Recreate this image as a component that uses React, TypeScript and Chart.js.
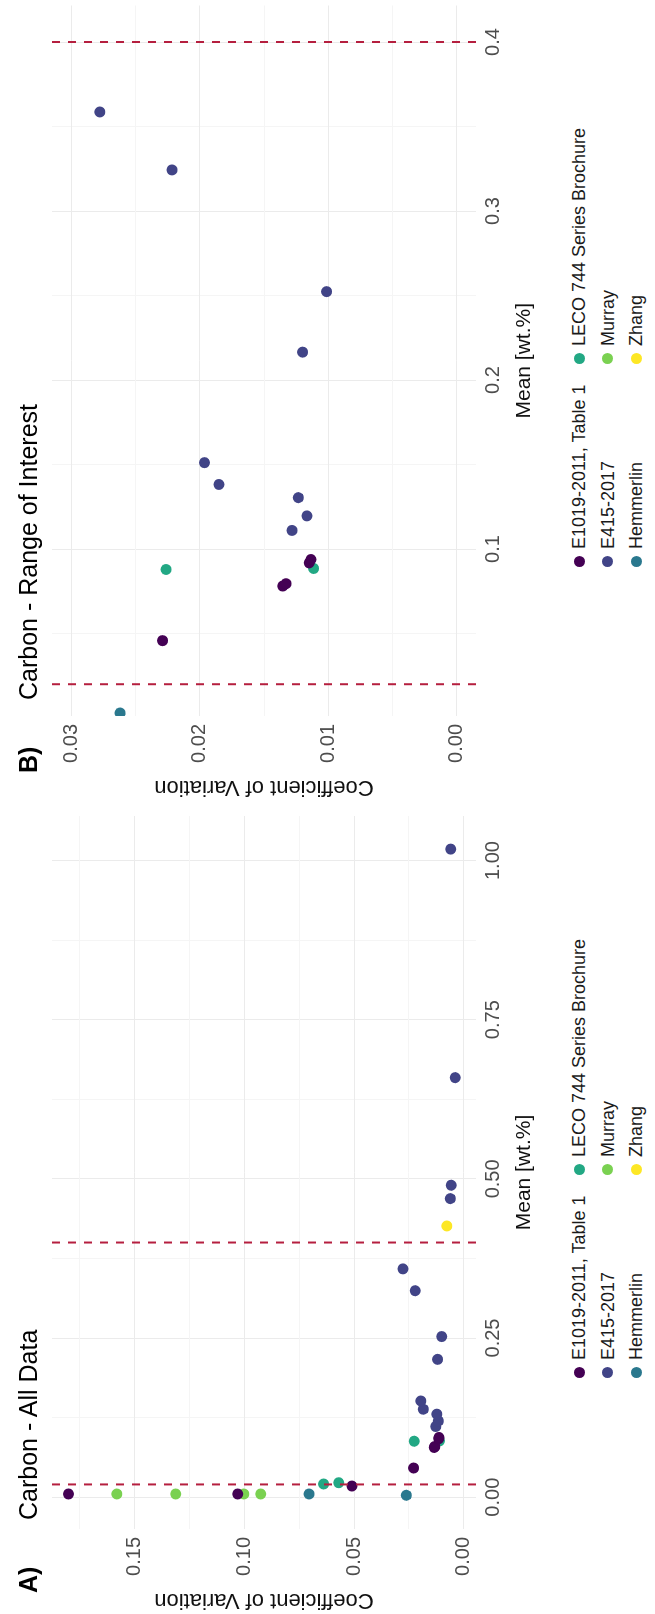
import React, { useEffect, useRef } from 'react';
import { Chart, registerables } from 'chart.js';

Chart.register(...registerables);

// ---------------- data ----------------
const seriesNames = [
  'E1019-2011, Table 1',
  'E415-2017',
  'Hemmerlin',
  'LECO 744 Series Brochure',
  'Murray',
  'Zhang',
];
const seriesColors = ['#440154', '#414487', '#2A788E', '#22A884', '#7AD151', '#FDE725'];

const e1019Mean = [0.005, 0.005, 0.0175, 0.0458, 0.0781, 0.0795, 0.0918, 0.0938];
const e1019Cov = [0.18, 0.103, 0.051, 0.0229, 0.01354, 0.01328, 0.01148, 0.01135];

const e415Mean = [0.111, 0.1196, 0.1304, 0.1382, 0.1511, 0.2165, 0.2523, 0.3243, 0.3586, 0.469, 0.49, 0.659, 1.018];
const e415Cov = [0.01282, 0.01166, 0.01233, 0.01851, 0.01964, 0.012, 0.01013, 0.02216, 0.02778, 0.0062, 0.0058, 0.004, 0.006];

const hemmerlinMean = [0.005, 0.003];
const hemmerlinCov = [0.0705, 0.0262];

const lecoMean = [0.0207, 0.0227, 0.0879, 0.0885];
const lecoCov = [0.0639, 0.057, 0.02262, 0.01114];

const murrayMean = [0.005, 0.005, 0.005, 0.005];
const murrayCov = [0.158, 0.1312, 0.1002, 0.0925];

const zhangMean = [0.426];
const zhangCov = [0.0078];

const rangeLines = [0.02, 0.4];

// ticks
const aMeanTicks = [0, 0.25, 0.5, 0.75, 1.0];
const aMeanLabels = ['0.00', '0.25', '0.50', '0.75', '1.00'];
const aMeanMinor = [0.125, 0.375, 0.625, 0.875];
const aCovTicks = [0, 0.05, 0.1, 0.15];
const aCovLabels = ['0.00', '0.05', '0.10', '0.15'];
const aCovMinor = [0.025, 0.075, 0.125, 0.175];

const bMeanTicks = [0.1, 0.2, 0.3, 0.4];
const bMeanLabels = ['0.1', '0.2', '0.3', '0.4'];
const bMeanMinor = [0.05, 0.15, 0.25, 0.35];
const bCovTicks = [0, 0.01, 0.02, 0.03];
const bCovLabels = ['0.00', '0.01', '0.02', '0.03'];
const bCovMinor = [0.005, 0.015, 0.025];

// ---------------- styling ----------------
const FONT = "'Liberation Sans', Arial, Helvetica, sans-serif";
const DASH = '#b51f3f';
const TICK_COLOR = '#4d4d4d';
const GRID_MAJOR = '#ebebeb';
const GRID_MINOR = '#f5f5f5';

const allMeans = [e1019Mean, e415Mean, hemmerlinMean, lecoMean, murrayMean, zhangMean];
const allCovs = [e1019Cov, e415Cov, hemmerlinCov, lecoCov, murrayCov, zhangCov];

type PanelSpec = {
  meanMin: number;
  meanMax: number;
  covMin: number;
  covMax: number;
  meanTicks: number[];
  meanLabels: string[];
  meanMinor: number[];
  covTicks: number[];
  covLabels: string[];
  covMinor: number[];
  width: number;
  height: number;
  padRight: number;
};

const panelA: PanelSpec = {
  meanMin: -0.05,
  meanMax: 1.07,
  covMin: -0.0055,
  covMax: 0.1875,
  meanTicks: aMeanTicks,
  meanLabels: aMeanLabels,
  meanMinor: aMeanMinor,
  covTicks: aCovTicks,
  covLabels: aCovLabels,
  covMinor: aCovMinor,
  width: 807,
  height: 560,
  padRight: 9,
};

const panelB: PanelSpec = {
  meanMin: 0.0012,
  meanMax: 0.4216,
  covMin: -0.0015,
  covMax: 0.0315,
  meanTicks: bMeanTicks,
  meanLabels: bMeanLabels,
  meanMinor: bMeanMinor,
  covTicks: bCovTicks,
  covLabels: bCovLabels,
  covMinor: bCovMinor,
  width: 801,
  height: 560,
  padRight: 0,
};

const near = (a: number, b: number) => Math.abs(a - b) < 1e-9;

function labelFor(v: number, ticks: number[], labels: string[]) {
  const i = ticks.findIndex((t) => near(t, v));
  return i >= 0 ? labels[i] : '';
}

function makeConfig(p: PanelSpec): any {
  const datasets: any[] = rangeLines.map((v) => ({
    type: 'line',
    data: [
      { x: v, y: p.covMax },
      { x: v, y: p.covMin },
    ],
    showLine: true,
    borderColor: DASH,
    borderWidth: 2,
    borderDash: [8, 8],
    pointRadius: 0,
    fill: false,
    clip: 0,
    order: 0,
  }));
  seriesNames.forEach((name, i) => {
    datasets.push({
      type: 'scatter',
      label: name,
      data: allMeans[i].map((m, j) => ({ x: m, y: allCovs[i][j] })),
      backgroundColor: seriesColors[i],
      borderWidth: 0,
      pointRadius: 5.5,
      pointHoverRadius: 5.5,
      clip: 0,
      order: i + 1,
    });
  });

  const meanAll = [...p.meanTicks, ...p.meanMinor].sort((a, b) => a - b);
  const covAll = [...p.covTicks, ...p.covMinor].sort((a, b) => a - b);

  return {
    type: 'scatter',
    data: { datasets },
    options: {
      animation: false,
      responsive: false,
      devicePixelRatio: 1,
      events: [],
      layout: { padding: { left: 0, right: p.padRight, top: 52, bottom: 0 } },
      plugins: { legend: { display: false }, tooltip: { enabled: false }, title: { display: false } },
      scales: {
        x: {
          type: 'linear',
          position: 'bottom',
          min: p.meanMin,
          max: p.meanMax,
          afterBuildTicks: (s: any) => {
            s.ticks = meanAll.map((v) => ({ value: v }));
          },
          afterFit: (s: any) => {
            s.height = 84;
          },
          border: { display: false },
          grid: {
            drawTicks: false,
            lineWidth: 1,
            color: (ctx: any) =>
              ctx.tick && p.meanTicks.some((t) => near(t, ctx.tick.value)) ? GRID_MAJOR : GRID_MINOR,
          },
          ticks: {
            autoSkip: false,
            maxRotation: 0,
            minRotation: 0,
            padding: 5,
            color: TICK_COLOR,
            font: { family: FONT, size: 20 },
            callback: (v: any) => labelFor(Number(v), p.meanTicks, p.meanLabels),
          },
          title: {
            display: true,
            text: 'Mean [wt.%]',
            color: '#111',
            font: { family: FONT, size: 21 },
            padding: { top: 0, bottom: 23 },
          },
        },
        y: {
          type: 'linear',
          position: 'left',
          min: p.covMin,
          max: p.covMax,
          afterBuildTicks: (s: any) => {
            s.ticks = covAll.map((v) => ({ value: v }));
          },
          afterFit: (s: any) => {
            s.width = 85;
          },
          border: { display: false },
          grid: {
            drawTicks: false,
            lineWidth: 1,
            color: (ctx: any) =>
              ctx.tick && p.covTicks.some((t) => near(t, ctx.tick.value)) ? GRID_MAJOR : GRID_MINOR,
          },
          ticks: {
            autoSkip: false,
            padding: 8,
            color: TICK_COLOR,
            font: { family: FONT, size: 20 },
            callback: (v: any) => labelFor(Number(v), p.covTicks, p.covLabels),
          },
          title: {
            display: true,
            text: 'Coefficient of Variation',
            color: '#111',
            font: { family: FONT, size: 22 },
            padding: { top: 1, bottom: 0 },
          },
        },
      },
    },
  };
}

function PanelChart({ spec, left }: { spec: PanelSpec; left: number }) {
  const ref = useRef<HTMLCanvasElement | null>(null);
  useEffect(() => {
    if (!ref.current) return;
    const chart = new Chart(ref.current, makeConfig(spec));
    return () => chart.destroy();
  }, [spec]);
  return (
    <canvas
      ref={ref}
      width={spec.width}
      height={spec.height}
      style={{ position: 'absolute', left, top: 0, width: spec.width, height: spec.height }}
    />
  );
}

const legendColX = [241, 444];
const legendRowY = [579, 607.5, 636];

function Legend({ offset }: { offset: number }) {
  return (
    <>
      {seriesNames.map((name, i) => {
        const cx = legendColX[i < 3 ? 0 : 1] + offset;
        const cy = legendRowY[i % 3];
        return (
          <React.Fragment key={name}>
            <div
              style={{
                position: 'absolute',
                left: cx - 5.5,
                top: cy - 5.5,
                width: 11,
                height: 11,
                borderRadius: '50%',
                background: seriesColors[i],
              }}
            />
            <div
              style={{
                position: 'absolute',
                left: cx + 13,
                top: cy - 11,
                height: 22,
                lineHeight: '22px',
                fontFamily: FONT,
                fontSize: 18,
                color: '#1a1a1a',
                whiteSpace: 'nowrap',
              }}
            >
              {name}
            </div>
          </React.Fragment>
        );
      })}
    </>
  );
}

function Title({ left, letter, text }: { left: number; letter: string; text: string }) {
  const base: React.CSSProperties = {
    position: 'absolute',
    top: 16,
    fontFamily: FONT,
    fontSize: 25,
    lineHeight: '25px',
    color: '#000',
    whiteSpace: 'nowrap',
  };
  return (
    <>
      <div style={{ ...base, left, fontWeight: 'bold' }}>{letter}</div>
      <div style={{ ...base, left: left + 73 }}>{text}</div>
    </>
  );
}

export default function App() {
  useEffect(() => {
    document.body.style.margin = '0';
  }, []);
  return (
    <div
      style={{
        position: 'absolute',
        left: 0,
        top: 0,
        width: 655,
        height: 1614,
        overflow: 'hidden',
        background: '#fff',
      }}
    >
      <div
        style={{
          position: 'absolute',
          left: 0,
          top: 0,
          width: 1614,
          height: 655,
          transformOrigin: '0 0',
          transform: 'translate(0px, 1614px) rotate(-90deg)',
          background: '#fff',
        }}
      >
        <PanelChart spec={panelA} left={0} />
        <PanelChart spec={panelB} left={813} />
        <Title left={21} letter="A)" text="Carbon - All Data" />
        <Title left={841} letter="B)" text="Carbon - Range of Interest" />
        <Legend offset={0} />
        <Legend offset={811} />
      </div>
    </div>
  );
}
